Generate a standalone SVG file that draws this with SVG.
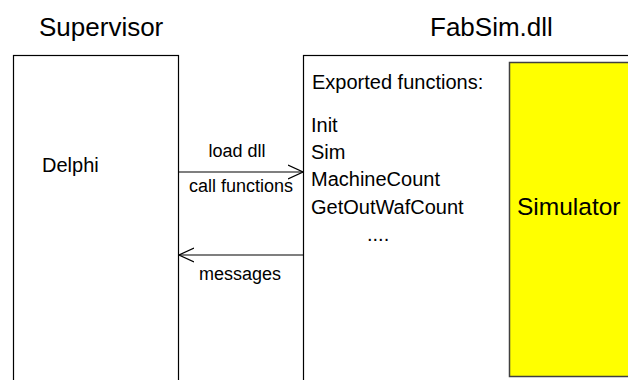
<svg xmlns="http://www.w3.org/2000/svg" width="628" height="380" viewBox="0 0 628 380">
<defs>
<style>
text{font-family:"Liberation Sans",Arial,sans-serif;fill:#000}
.title{font-size:26px}
.fn{font-size:20px}
.lbl{font-size:18px;text-anchor:middle}
.box{fill:#fff;stroke:#000;stroke-width:1.2}
.conn{stroke:#000;stroke-width:1.2;fill:none}
</style>
<marker id="open" viewBox="0 0 16 16" refX="15" refY="8" markerWidth="16" markerHeight="16" markerUnits="userSpaceOnUse" orient="auto">
<path d="M0,1 L15,8 L0,15" fill="none" stroke="#000" stroke-width="1.2"/>
</marker>
</defs>
<rect width="628" height="380" fill="#fff"/>
<text class="title" x="39" y="36">Supervisor</text>
<text class="title" x="430" y="36">FabSim.dll</text>
<g id="supervisor">
<rect class="box" x="13.5" y="55.5" width="165" height="340"/>
<text class="fn" x="42" y="172">Delphi</text>
</g>
<g id="fabsim">
<rect class="box" x="303.5" y="55.5" width="340" height="340"/>
<text class="fn" x="312" y="89">Exported functions:</text>
<text class="fn" x="311" y="132">Init</text>
<text class="fn" x="311" y="159">Sim</text>
<text class="fn" x="311" y="186">MachineCount</text>
<text class="fn" x="311" y="214">GetOutWafCount</text>
<text class="fn" x="367" y="241">....</text>
</g>
<g id="simulator">
<rect x="509.5" y="62.5" width="140" height="314" fill="#ffff00" stroke="#404040" stroke-width="1.5"/>
<text x="517" y="215" style="font-size:24.5px">Simulator</text>
</g>
<g id="connectors">
<line class="conn" x1="179" y1="172" x2="303" y2="172" marker-end="url(#open)"/>
<text class="lbl" x="237" y="157">load dll</text>
<text class="lbl" x="241" y="192">call functions</text>
<line class="conn" x1="303" y1="255" x2="179" y2="255" marker-end="url(#open)"/>
<text class="lbl" x="240" y="280">messages</text>
</g>
</svg>
